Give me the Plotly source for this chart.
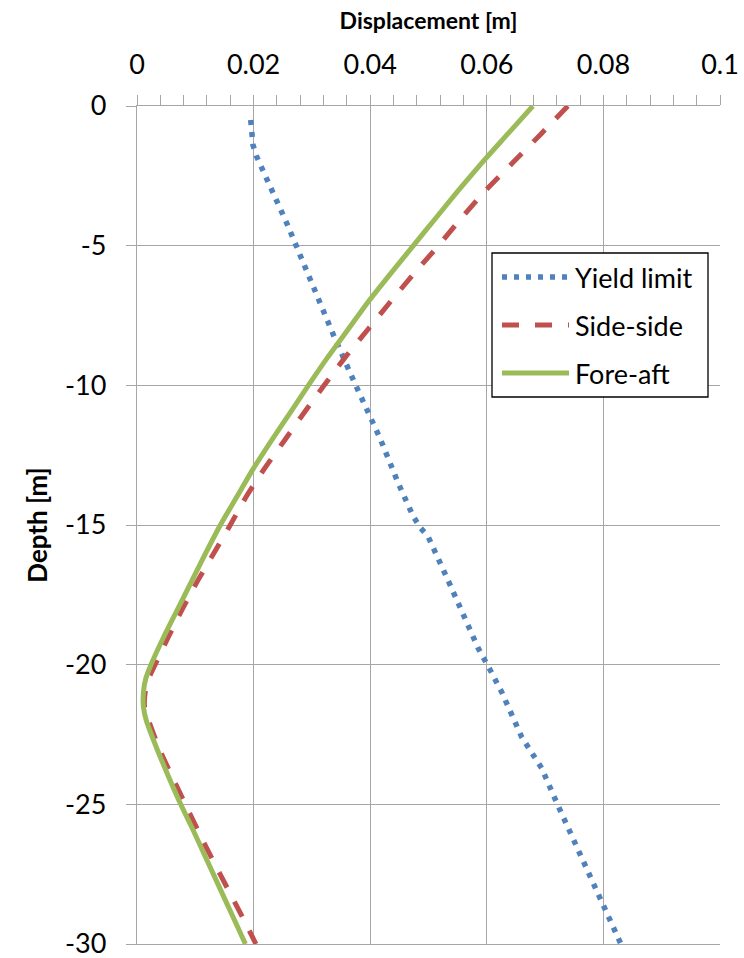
import plotly.graph_objects as go

# Yield limit profile (displacement [m] vs depth [m])
yield_depth = [-0.5, -1.0, -1.4, -1.8, -2.2, -3.0, -4.2, -5.0, -6.7, -8.3, -9.9,
               -11.9, -13.5, -14.7, -15.1, -15.4, -17.0, -18.2, -19.4, -20.2,
               -21.0, -22.6, -23.7, -24.9, -26.1, -27.3, -28.5, -30.0]
yield_disp = [0.0195, 0.0197, 0.0199, 0.0205, 0.0214, 0.0231, 0.0257, 0.0273,
              0.0306, 0.0339, 0.0373, 0.0417, 0.0448, 0.0474, 0.0486, 0.0499,
              0.0534, 0.0559, 0.0585, 0.0606, 0.0626, 0.0660, 0.0694, 0.0719,
              0.0745, 0.0771, 0.0797, 0.0830]

# Side-side response
side_depth = [0, -1, -2, -3, -4, -5, -6, -7, -8, -9, -10, -11, -12, -13, -14, -15,
              -16, -17, -18, -19, -20, -20.5, -21, -21.5, -22, -23, -24, -25, -26,
              -27, -28, -29, -30]
side_disp = [0.0739, 0.0693, 0.0646, 0.0599, 0.0557, 0.0517, 0.0475, 0.0435,
             0.0396, 0.0357, 0.0321, 0.0286, 0.0252, 0.0218, 0.0187, 0.0160,
             0.0132, 0.0104, 0.0078, 0.0054, 0.0031, 0.0020, 0.0014, 0.0013,
             0.0020, 0.0038, 0.0060, 0.0083, 0.0106, 0.0130, 0.0155, 0.0180,
             0.0204]

# Fore-aft response
fore_depth = [0, -1, -2, -3, -4, -5, -6, -7, -8, -9, -10, -11, -12, -13, -14, -15,
              -16, -17, -18, -19, -20, -20.5, -21, -21.5, -22, -23, -24, -25, -26,
              -27, -28, -29, -30]
fore_disp = [0.0679, 0.0636, 0.0593, 0.0552, 0.0513, 0.0474, 0.0435, 0.0397,
             0.0362, 0.0327, 0.0294, 0.0262, 0.0230, 0.0199, 0.0171, 0.0143,
             0.0118, 0.0094, 0.0070, 0.0046, 0.0024, 0.0015, 0.0011, 0.0011,
             0.0016, 0.0034, 0.0054, 0.0075, 0.0098, 0.0120, 0.0142, 0.0164,
             0.0186]

x_ticks = [0, 0.02, 0.04, 0.06, 0.08, 0.1]
x_ticktext = ["0", "0.02", "0.04", "0.06", "0.08", "0.1"]
y_ticks = [0, -5, -10, -15, -20, -25, -30]
y_ticktext = ["0", "-5", "-10", "-15", "-20", "-25", "-30"]

series_names = ["Yield limit", "Side-side", "Fore-aft"]
series_colors = ["#4F81BD", "#C0504D", "#9BBB59"]
series_dash = ["5px,7px", "17px,16px", "solid"]
series_width = [5.5, 5, 5]

FONT = "Lato, Carlito, Calibri, sans-serif"
GRID = "#A6A6A6"

W, H = 744, 958
ML, MR, MT, MB = 137, 24, 106, 14

fig = go.Figure()
series = [(yield_disp, yield_depth), (side_disp, side_depth), (fore_disp, fore_depth)]
for (xs, ys), name, col, dash, lw in zip(series, series_names, series_colors,
                                         series_dash, series_width):
    fig.add_trace(go.Scatter(
        x=xs, y=ys, mode="lines", name=name,
        line=dict(color=col, width=lw, dash=dash,
                  shape="linear" if name == "Yield limit" else "spline",
                  smoothing=0.6),
        showlegend=False,
    ))


# legend box drawn in paper space from pixel positions
def px_x(p):
    return (p - ML) / (W - ML - MR)


def px_y(p):
    return (H - MB - p) / (H - MT - MB)


shapes = [dict(type="rect", xref="paper", yref="paper",
               x0=px_x(492), x1=px_x(708), y0=px_y(397), y1=px_y(253),
               line=dict(color="#000000", width=1.3), fillcolor="white",
               layer="above")]
annotations = []
row_y = [277, 325, 373]
for ry, name, col, dash, lw in zip(row_y, series_names, series_colors,
                                   series_dash, series_width):
    shapes.append(dict(type="line", xref="paper", yref="paper",
                       x0=px_x(502), x1=px_x(569), y0=px_y(ry), y1=px_y(ry),
                       line=dict(color=col, width=lw, dash=dash), layer="above"))
    annotations.append(dict(text=name, xref="paper", yref="paper",
                            x=px_x(573), y=px_y(ry), xanchor="left",
                            yanchor="middle", showarrow=False,
                            font=dict(family=FONT, size=27, color="#000000")))

fig.update_layout(
    width=W, height=H,
    margin=dict(l=ML, r=MR, t=MT, b=MB, pad=0),
    paper_bgcolor="white", plot_bgcolor="white",
    shapes=shapes, annotations=annotations,
    font=dict(family=FONT, color="#000000"),
    xaxis=dict(
        side="top", range=[0, 0.1], tickvals=x_ticks, ticktext=x_ticktext,
        automargin=False, ticklabeloverflow="allow", mirror=True,
        showgrid=True, gridcolor=GRID, gridwidth=1.3,
        showline=True, linecolor=GRID, linewidth=1.3,
        ticks="outside", ticklen=10, tickcolor=GRID, tickwidth=1.3,
        minor=dict(ticks="outside", ticklen=10, dtick=0.004, tickcolor=GRID,
                   tickwidth=1.3, showgrid=False),
        zeroline=False, ticklabelstandoff=10,
        tickfont=dict(family=FONT, size=27, color="#000000"),
        title=dict(text="Displacement [m]", standoff=10,
                   font=dict(family=FONT, size=23, color="#000000", weight="bold")),
    ),
    yaxis=dict(
        range=[-30, 0], tickvals=y_ticks, ticktext=y_ticktext,
        automargin=False, ticklabeloverflow="allow",
        showgrid=True, gridcolor=GRID, gridwidth=1.3,
        showline=True, linecolor=GRID, linewidth=1.3,
        ticks="outside", ticklen=10, tickcolor=GRID, tickwidth=1.3,
        zeroline=False, ticklabelstandoff=14,
        tickfont=dict(family=FONT, size=27, color="#000000"),
        title=dict(text="Depth [m]", standoff=9,
                   font=dict(family=FONT, size=26, color="#000000", weight="bold")),
    ),
)

fig.write_html("out.html")
